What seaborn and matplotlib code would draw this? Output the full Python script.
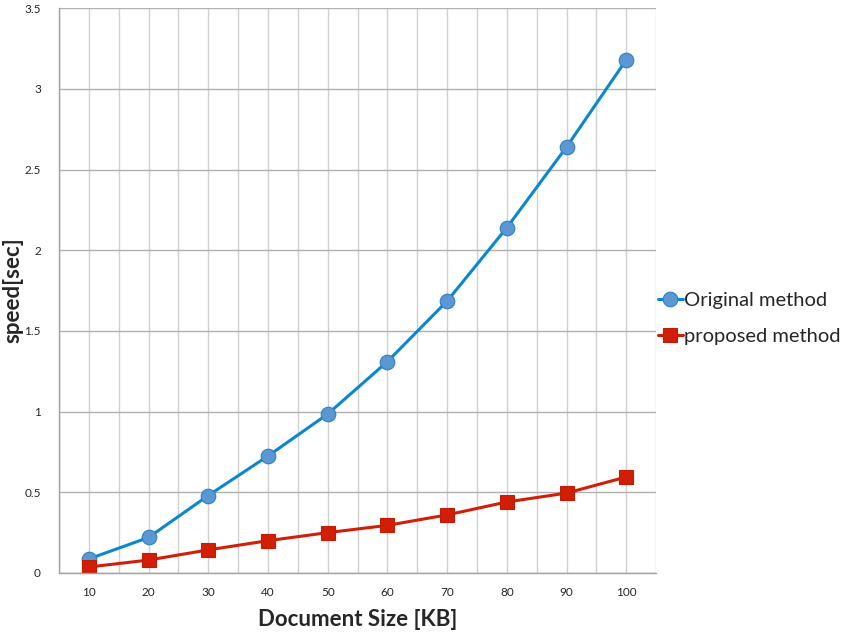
import matplotlib
matplotlib.use("Agg")
import matplotlib.pyplot as plt
import seaborn as sns
import numpy as np

doc_size = [10, 20, 30, 40, 50, 60, 70, 80, 90, 100]
original = [0.087, 0.22, 0.48, 0.725, 0.985, 1.31, 1.685, 2.14, 2.64, 3.18]
proposed = [0.037, 0.08, 0.143, 0.2, 0.25, 0.295, 0.36, 0.44, 0.495, 0.595]

sns.set_style("white")
plt.rcParams['font.family'] = ['Lato', 'DejaVu Sans']

fig = plt.figure(figsize=(8.51, 6.32), dpi=100)
ax = fig.add_axes([0.0693, 0.0934, 0.7017, 0.8936])

sns.lineplot(x=doc_size, y=original, ax=ax, color='#0a87cf', lw=2.2,
             marker='o', markersize=10.5, markerfacecolor='#5b97d2',
             markeredgecolor='#2f7fc4', markeredgewidth=0.8, label='Original method')
sns.lineplot(x=doc_size, y=proposed, ax=ax, color='#d01f06', lw=2.2,
             marker='s', markersize=10.5, markerfacecolor='#d01f06',
             markeredgecolor='#c41c04', markeredgewidth=0.8, label='proposed method')

ax.set_xlim(5, 105)
ax.set_ylim(0, 3.5)
ax.set_xticks(doc_size)
ax.set_xticks(np.arange(5, 106, 10), minor=True)
ax.set_yticks(np.arange(0, 3.51, 0.5))
ax.set_yticklabels(['0', '0.5', '1', '1.5', '2', '2.5', '3', '3.5'])
ax.grid(True, which='both', axis='x', color='#d0d0d0', lw=1)
ax.grid(True, axis='y', color='#b0b0b0', lw=1)
ax.set_axisbelow(True)

for s in ['top', 'right']:
    ax.spines[s].set_visible(False)
for s in ['left', 'bottom']:
    ax.spines[s].set_color('#a0a0a0')
    ax.spines[s].set_linewidth(1)

ax.tick_params(axis='y', which='major', length=5, color='#a0a0a0', labelsize=8.5, pad=8)
ax.tick_params(axis='x', which='both', length=0, labelsize=8.5, pad=10)

ax.set_xlabel('Document Size [KB]', fontsize=16, fontweight='bold', labelpad=8)
ax.set_ylabel('speed[sec]', fontsize=16, fontweight='bold')
ax.yaxis.set_label_coords(-0.06, 0.5)

ax.legend(loc='center left', bbox_to_anchor=(1.003, 0.45), frameon=False,
          fontsize=14.5, handlelength=1.25, handletextpad=0.05, labelspacing=0.95,
          borderaxespad=0, borderpad=0)

fig.savefig('out.png', dpi=100)
